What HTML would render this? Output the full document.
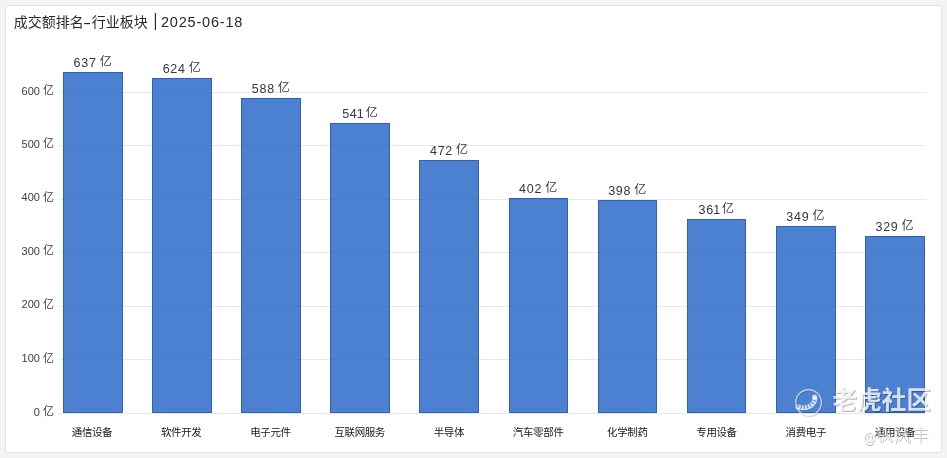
<!DOCTYPE html><html lang="zh"><head><meta charset="utf-8"><title>成交额排名-行业板块</title><style>
*{margin:0;padding:0;box-sizing:border-box}
html,body{width:947px;height:458px;overflow:hidden}
body{background:#f4f4f4;font-family:"Liberation Sans",sans-serif;color:#24292e;position:relative}
.card{position:absolute;left:5px;top:5px;width:937px;height:447.6px;background:#fff;border:1px solid #e3e3e4;border-radius:2px}
.layer{position:absolute;left:0;top:0;width:947px;height:458px;will-change:transform}
.abs{position:absolute;white-space:nowrap;line-height:1}
.cj{display:inline-block;position:relative;vertical-align:top}
.cj .t{position:absolute;left:0;top:0;width:100%;height:100%;overflow:visible;color:inherit;white-space:nowrap;line-height:1;letter-spacing:0;text-align:left;font-family:"Liberation Sans","Noto Sans CJK SC",sans-serif}
.grid{position:absolute;left:58.5px;width:867.5px;height:1px;background:#e7e8e8}
.bar{position:absolute;background:rgba(31,96,196,0.8);border:1px solid #3160b2}
.title{font-size:14.5px;letter-spacing:0.8px}
.tick{font-size:11px;color:#3a3f44}
.val{font-size:12.5px;letter-spacing:0.75px;color:#33383d}
.val .cj{font-size:12px}
.xl{font-size:10.4px}
.xl .cj{font-size:10.5px;color:#15181b}
.xl .cj .t{letter-spacing:-0.4px}
</style></head><body>
<div class="card"></div>
<div class="grid" style="top:412.6px"></div>
<div class="grid" style="top:358.7px"></div>
<div class="grid" style="top:305.8px"></div>
<div class="grid" style="top:252.0px"></div>
<div class="grid" style="top:198.8px"></div>
<div class="grid" style="top:145.0px"></div>
<div class="grid" style="top:92.0px"></div>
<div class="bar" style="left:63.0px;top:72.0px;width:59.8px;height:340.6px"></div>
<div class="bar" style="left:152.1px;top:78.1px;width:59.8px;height:334.5px"></div>
<div class="bar" style="left:241.2px;top:98.0px;width:59.8px;height:314.6px"></div>
<div class="bar" style="left:330.3px;top:123.1px;width:59.8px;height:289.5px"></div>
<div class="bar" style="left:419.4px;top:160.1px;width:59.8px;height:252.5px"></div>
<div class="bar" style="left:508.5px;top:198.1px;width:59.8px;height:214.5px"></div>
<div class="bar" style="left:597.6px;top:200.1px;width:59.8px;height:212.5px"></div>
<div class="bar" style="left:686.7px;top:219.1px;width:59.8px;height:193.5px"></div>
<div class="bar" style="left:775.8px;top:226.0px;width:59.8px;height:186.6px"></div>
<div class="bar" style="left:864.9px;top:236.0px;width:59.8px;height:176.6px"></div>
<div class="layer"><div class="abs" style="left:13.7px;top:14.8px;font-size:14px"><span class="cj" style="width:70.00px;height:14.00px;"><span class="t">成交额排名</span></span></div>
<div class="abs title" style="left:82.7px;top:15.7px;transform:scaleX(1.7);transform-origin:0 0">-</div>
<div class="abs" style="left:91.7px;top:14.8px;font-size:14px"><span class="cj" style="width:56.00px;height:14.00px;"><span class="t">行业板块</span></span></div>
<div class="abs title" style="left:153.3px;top:10.5px;font-size:18.5px;transform:scaleX(0.8);transform-origin:50% 0">|</div>
<div class="abs title" style="left:161.0px;top:14.5px">2025-06-18</div>
<div class="abs tick" style="right:892.9px;top:406.2px"><span style="display:inline-block;vertical-align:top;margin-right:3.2px;padding-top:0.6px">0</span><span class="cj" style="width:11.00px;height:11.00px;"><span class="t">亿</span></span></div>
<div class="abs tick" style="right:892.9px;top:352.6px"><span style="display:inline-block;vertical-align:top;margin-right:3.2px;padding-top:0.6px">100</span><span class="cj" style="width:11.00px;height:11.00px;"><span class="t">亿</span></span></div>
<div class="abs tick" style="right:892.9px;top:298.9px"><span style="display:inline-block;vertical-align:top;margin-right:3.2px;padding-top:0.6px">200</span><span class="cj" style="width:11.00px;height:11.00px;"><span class="t">亿</span></span></div>
<div class="abs tick" style="right:892.9px;top:245.1px"><span style="display:inline-block;vertical-align:top;margin-right:3.2px;padding-top:0.6px">300</span><span class="cj" style="width:11.00px;height:11.00px;"><span class="t">亿</span></span></div>
<div class="abs tick" style="right:892.9px;top:191.8px"><span style="display:inline-block;vertical-align:top;margin-right:3.2px;padding-top:0.6px">400</span><span class="cj" style="width:11.00px;height:11.00px;"><span class="t">亿</span></span></div>
<div class="abs tick" style="right:892.9px;top:138.4px"><span style="display:inline-block;vertical-align:top;margin-right:3.2px;padding-top:0.6px">500</span><span class="cj" style="width:11.00px;height:11.00px;"><span class="t">亿</span></span></div>
<div class="abs tick" style="right:892.9px;top:85.1px"><span style="display:inline-block;vertical-align:top;margin-right:3.2px;padding-top:0.6px">600</span><span class="cj" style="width:11.00px;height:11.00px;"><span class="t">亿</span></span></div>
<div class="abs val" style="left:52.6px;top:56.0px;width:80px;text-align:center"><span style="display:inline-block;vertical-align:top;margin-right:3px;padding-top:0.8px">637</span><span class="cj" style="width:12.00px;height:12.00px;"><span class="t">亿</span></span></div>
<div class="abs xl" style="left:42.0px;top:426.9px;width:100px;text-align:center"><span class="cj" style="width:40.40px;height:10.50px;"><span class="t">通信设备</span></span></div>
<div class="abs val" style="left:141.7px;top:62.1px;width:80px;text-align:center"><span style="display:inline-block;vertical-align:top;margin-right:3px;padding-top:0.8px">624</span><span class="cj" style="width:12.00px;height:12.00px;"><span class="t">亿</span></span></div>
<div class="abs xl" style="left:131.2px;top:426.9px;width:100px;text-align:center"><span class="cj" style="width:40.40px;height:10.50px;"><span class="t">软件开发</span></span></div>
<div class="abs val" style="left:230.8px;top:82.0px;width:80px;text-align:center"><span style="display:inline-block;vertical-align:top;margin-right:3px;padding-top:0.8px">588</span><span class="cj" style="width:12.00px;height:12.00px;"><span class="t">亿</span></span></div>
<div class="abs xl" style="left:220.4px;top:426.9px;width:100px;text-align:center"><span class="cj" style="width:40.40px;height:10.50px;"><span class="t">电子元件</span></span></div>
<div class="abs val" style="left:319.9px;top:107.1px;width:80px;text-align:center"><span style="display:inline-block;vertical-align:top;margin-right:3px;padding-top:0.8px">54<span style="margin:0 -1.9px 0 -0.7px">1</span></span><span class="cj" style="width:12.00px;height:12.00px;"><span class="t">亿</span></span></div>
<div class="abs xl" style="left:309.7px;top:426.9px;width:100px;text-align:center"><span class="cj" style="width:50.51px;height:10.50px;"><span class="t">互联网服务</span></span></div>
<div class="abs val" style="left:409.0px;top:144.1px;width:80px;text-align:center"><span style="display:inline-block;vertical-align:top;margin-right:3px;padding-top:0.8px">472</span><span class="cj" style="width:12.00px;height:12.00px;"><span class="t">亿</span></span></div>
<div class="abs xl" style="left:398.9px;top:426.9px;width:100px;text-align:center"><span class="cj" style="width:30.30px;height:10.50px;"><span class="t">半导体</span></span></div>
<div class="abs val" style="left:498.1px;top:182.1px;width:80px;text-align:center"><span style="display:inline-block;vertical-align:top;margin-right:3px;padding-top:0.8px">402</span><span class="cj" style="width:12.00px;height:12.00px;"><span class="t">亿</span></span></div>
<div class="abs xl" style="left:488.1px;top:426.9px;width:100px;text-align:center"><span class="cj" style="width:50.51px;height:10.50px;"><span class="t">汽车零部件</span></span></div>
<div class="abs val" style="left:587.2px;top:184.1px;width:80px;text-align:center"><span style="display:inline-block;vertical-align:top;margin-right:3px;padding-top:0.8px">398</span><span class="cj" style="width:12.00px;height:12.00px;"><span class="t">亿</span></span></div>
<div class="abs xl" style="left:577.3px;top:426.9px;width:100px;text-align:center"><span class="cj" style="width:40.40px;height:10.50px;"><span class="t">化学制药</span></span></div>
<div class="abs val" style="left:676.3px;top:203.1px;width:80px;text-align:center"><span style="display:inline-block;vertical-align:top;margin-right:3px;padding-top:0.8px">36<span style="margin:0 -1.9px 0 -0.7px">1</span></span><span class="cj" style="width:12.00px;height:12.00px;"><span class="t">亿</span></span></div>
<div class="abs xl" style="left:666.5px;top:426.9px;width:100px;text-align:center"><span class="cj" style="width:40.40px;height:10.50px;"><span class="t">专用设备</span></span></div>
<div class="abs val" style="left:765.4px;top:210.0px;width:80px;text-align:center"><span style="display:inline-block;vertical-align:top;margin-right:3px;padding-top:0.8px">349</span><span class="cj" style="width:12.00px;height:12.00px;"><span class="t">亿</span></span></div>
<div class="abs xl" style="left:755.8px;top:426.9px;width:100px;text-align:center"><span class="cj" style="width:40.40px;height:10.50px;"><span class="t">消费电子</span></span></div>
<div class="abs val" style="left:854.5px;top:220.0px;width:80px;text-align:center"><span style="display:inline-block;vertical-align:top;margin-right:3px;padding-top:0.8px">329</span><span class="cj" style="width:12.00px;height:12.00px;"><span class="t">亿</span></span></div>
<div class="abs xl" style="left:845.0px;top:426.9px;width:100px;text-align:center"><span class="cj" style="width:40.40px;height:10.50px;"><span class="t">通用设备</span></span></div><svg class="abs" style="left:790px;top:384px" width="40" height="40" viewBox="790 384 40 40"><g fill="none"><circle cx="809.4" cy="403.4" r="12.8" stroke="rgba(0,0,0,0.2)" stroke-width="1.3"/><circle cx="808.6" cy="402.6" r="12.8" stroke="rgba(255,255,255,0.66)" stroke-width="1.4"/><path d="M814.6 396.8 L814.7 398.1 L814.6 399.5 L814.3 400.8 L813.7 402.0 L813.0 403.1 L812.1 404.2 L811.0 405.1 L809.7 405.9 L808.3 406.6 L806.8 407.1 L805.2 407.4 L803.4 407.5 L803.4 407.5 L802.8 407.5 L802.2 407.5 L801.6 407.4 L801.0 407.3 L800.4 407.2 L799.9 407.1 L799.3 407.0 L798.7 406.8 L798.2 406.6 L797.7 406.4 L797.2 406.2 L796.7 405.9" stroke="rgba(255,255,255,0.74)" stroke-width="4.6" stroke-dasharray="3.4 1 2.2 1 2.2 1 2.2 1 2.2 1 2.2 1 2.2 1 2.2 1 3"/><path d="M816.6 396.6 L816.7 398.1 L816.6 399.8 L816.2 401.4 L815.5 402.9 L814.6 404.3 L813.5 405.6 L812.2 406.7 L810.7 407.7 L809.1 408.4 L807.3 409.0 L805.4 409.4 L803.5 409.5 L803.4 409.5 L802.7 409.5 L802.1 409.5 L801.4 409.4 L800.7 409.3 L800.1 409.2 L799.4 409.1 L798.8 408.9 L798.1 408.7 L797.5 408.5 L796.9 408.2 L796.3 407.9 L795.7 407.7" stroke="rgba(255,255,255,0.74)" stroke-width="1.1"/><circle cx="814.5" cy="396.7" r="2.3" fill="rgba(255,255,255,0.74)" stroke="none"/></g></svg>
<div class="abs" style="left:832.6px;top:388.5px"><span class="cj" style="width:98.40px;height:24.60px;font-size:24.6px"><span class="t" style="color:rgba(255,255,255,0.8);font-weight:bold;text-shadow:1px 1px 0 rgba(0,0,0,0.28)">老虎社区</span></span></div>
<div class="abs" style="left:863.3px;top:429.5px;font-size:15px;color:rgba(255,255,255,0.9);text-shadow:0.9px 0.9px 0.5px rgba(0,0,0,0.3);transform:scaleX(0.84);transform-origin:0 0">@</div>
<div class="abs" style="left:876.3px;top:428.2px"><span class="cj" style="width:53.29px;height:16.60px;font-size:16.6px"><span class="t" style="color:rgba(255,255,255,0.62);font-weight:300;letter-spacing:1.16px;text-shadow:0.9px 0.9px 0 rgba(0,0,0,0.33)">枫风丰</span></span></div></div>
</body></html>
